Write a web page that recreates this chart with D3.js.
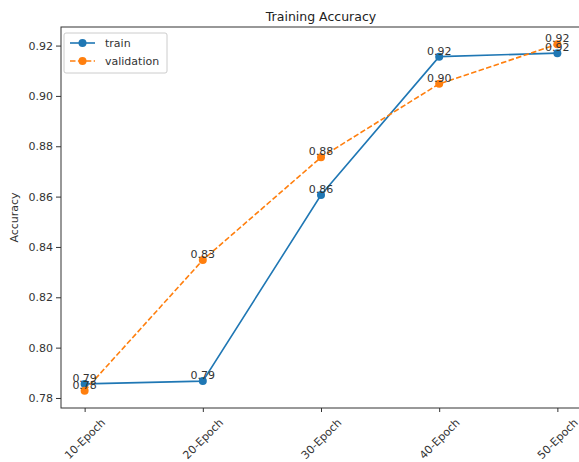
<!DOCTYPE html>
<html><head><meta charset="utf-8">
<script src="https://cdn.jsdelivr.net/npm/d3@7"></script>
<style>body{margin:0;background:#fff}text{font-family:"DejaVu Sans",sans-serif}</style>
</head><body><svg id="c" width="579" height="462"></svg>
<script>
const categories = ["10-Epoch","20-Epoch","30-Epoch","40-Epoch","50-Epoch"];
const trainValues = [0.7856, 0.7867, 0.8606, 0.9156, 0.9170];
const validationValues = [0.7829, 0.8348, 0.8756, 0.9048, 0.9205];
const yTicks = [0.78,0.80,0.82,0.84,0.86,0.88,0.90,0.92];
const series = [
  {name:"train", values:trainValues, color:"#1f77b4", dash:null},
  {name:"validation", values:validationValues, color:"#ff7f0e", dash:"5.5,2.4"}
];

const svg = d3.select("#c");
const L=61, R=581, T=27, B=408;
const x = d3.scalePoint().domain(categories).range([L,R]).padding(0.2);
const allV = trainValues.concat(validationValues);
const vmin=d3.min(allV), vmax=d3.max(allV), m=(vmax-vmin)*0.05;
const y = d3.scaleLinear().domain([vmin-m, vmax+m]).range([B,T]);

const fs = 11;
const gx = svg.append("g").attr("transform",`translate(0,${B})`)
  .call(d3.axisBottom(x).tickSize(4).tickSizeOuter(0));
gx.select(".domain").remove();
gx.selectAll("line").attr("stroke","#333");
gx.selectAll("text").attr("font-size",fs).attr("fill","#333")
  .attr("text-anchor","middle").attr("dy",null).attr("y",null)
  .attr("dominant-baseline","central")
  .attr("transform","translate(0,31) rotate(-45)");
const gy = svg.append("g").attr("transform",`translate(${L},0)`)
  .call(d3.axisLeft(y).tickValues(yTicks).tickFormat(d3.format(".2f")).tickSize(5).tickSizeOuter(0));
gy.select(".domain").remove();
gy.selectAll("line").attr("stroke","#333");
gy.selectAll("text").attr("font-size",fs).attr("fill","#333").attr("x",-8);

svg.append("rect").attr("x",L).attr("y",T).attr("width",R-L).attr("height",B-T)
  .attr("fill","none").attr("stroke","#333").attr("stroke-width",1);

svg.append("text").attr("x",(L+R)/2).attr("y",21).attr("text-anchor","middle")
  .attr("font-size",12.5).attr("fill","#222").text("Training Accuracy");
svg.append("text").attr("transform",`translate(18,${(T+B)/2}) rotate(-90)`)
  .attr("text-anchor","middle").attr("font-size",fs).attr("fill","#333").text("Accuracy");

const line = d3.line().x((d,i)=>x(categories[i])).y(d=>y(d));
series.forEach(s=>{
  svg.append("path").datum(s.values).attr("d",line).attr("fill","none")
    .attr("stroke",s.color).attr("stroke-width",1.6)
    .attr("stroke-dasharray",s.dash);
  svg.selectAll(null).data(s.values).enter().append("circle")
    .attr("cx",(d,i)=>x(categories[i])).attr("cy",d=>y(d)).attr("r",4).attr("fill",s.color);
});
series.forEach(s=>{
  svg.selectAll(null).data(s.values).enter().append("text")
    .attr("x",(d,i)=>x(categories[i])).attr("y",d=>y(d)-2)
    .attr("text-anchor","middle").attr("font-size",fs).attr("fill","#333")
    .text(d=>d3.format(".2f")(d));
});

const lg = svg.append("g").attr("transform","translate(64,33)");
lg.append("rect").attr("width",103).attr("height",40).attr("rx",2)
  .attr("fill","#fff").attr("fill-opacity",0.8).attr("stroke","#ccc");
series.forEach((s,i)=>{
  const yy = 10 + i*18;
  lg.append("line").attr("x1",6).attr("x2",31).attr("y1",yy).attr("y2",yy)
    .attr("stroke",s.color).attr("stroke-width",1.6).attr("stroke-dasharray",s.dash);
  lg.append("circle").attr("cx",18.5).attr("cy",yy).attr("r",4).attr("fill",s.color);
  lg.append("text").attr("x",41).attr("y",yy).attr("dominant-baseline","central")
    .attr("font-size",fs).attr("fill","#333").text(s.name);
});
</script></body></html>
